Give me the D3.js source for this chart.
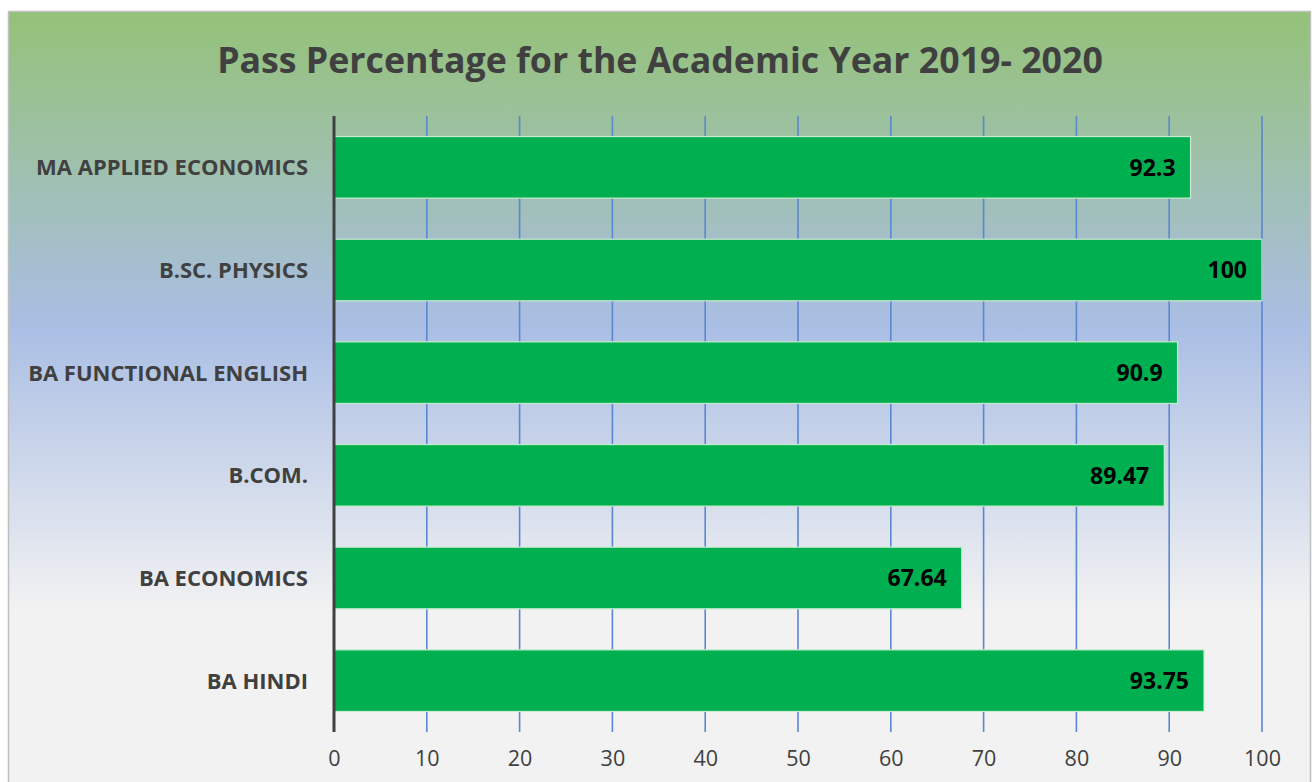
<!DOCTYPE html>
<html>
<head>
<meta charset="utf-8">
<script src="https://d3js.org/d3.v7.min.js"></script>
<style>
  html, body { margin: 0; padding: 0; background: #fff; }
  svg { display: block; font-family: 'Open Sans', sans-serif; }
</style>
<title>Pass Percentage</title>
</head>
<body>
<script>
var categories = ["MA APPLIED ECONOMICS", "B.SC. PHYSICS", "BA FUNCTIONAL ENGLISH", "B.COM.", "BA ECONOMICS", "BA HINDI"];
var passPct = [92.3, 100, 90.9, 89.47, 67.64, 93.75];
var valueLabels = ["92.3", "100", "90.9", "89.47", "67.64", "93.75"];
var xTicks = [0, 10, 20, 30, 40, 50, 60, 70, 80, 90, 100];
var title = "Pass Percentage for the Academic Year 2019- 2020";

var W = 1315, H = 782;
var svg = d3.select("body").append("svg").attr("width", W).attr("height", H);

// background gradient like the original
var grad = svg.append("defs").append("linearGradient")
    .attr("id", "bg").attr("x1", 0).attr("y1", 0).attr("x2", 0).attr("y2", 1);
grad.append("stop").attr("offset", "0%").attr("stop-color", "rgb(148,194,120)");
grad.append("stop").attr("offset", "40%").attr("stop-color", "rgb(170,190,228)");
grad.append("stop").attr("offset", "76%").attr("stop-color", "#f2f2f2");
grad.append("stop").attr("offset", "100%").attr("stop-color", "#f2f2f2");

svg.append("rect").attr("x", 8.5).attr("y", 11.5).attr("width", 1302).attr("height", 790)
    .attr("fill", "url(#bg)").attr("stroke", "#bfbfbf").attr("stroke-width", 1.5);

var margin = {top: 116, left: 334, right: W - 1262, bottom: H - 732};

var x = d3.scaleLinear().domain([0, 100]).range([margin.left, W - margin.right]);
var y = d3.scaleBand().domain(categories).range([margin.top, H - margin.bottom]).paddingInner(0.4).paddingOuter(0.2);

// gridlines
svg.append("g").selectAll("line").data(xTicks.slice(1)).enter().append("line")
    .attr("x1", function(d) { return x(d); }).attr("x2", function(d) { return x(d); })
    .attr("y1", margin.top).attr("y2", H - margin.bottom)
    .attr("stroke", "#5b86d0").attr("stroke-width", 1.6);

// bars
var data = categories.map(function(c, i) { return {cat: c, v: passPct[i], lab: valueLabels[i]}; });
svg.append("g").selectAll("rect").data(data).enter().append("rect")
    .attr("x", x(0)).attr("y", function(d) { return y(d.cat); })
    .attr("width", function(d) { return x(d.v) - x(0); })
    .attr("height", y.bandwidth())
    .attr("fill", "#00b050").attr("stroke", "#c8ecd0").attr("stroke-width", 1.2);

// value labels
svg.append("g").selectAll("text").data(data).enter().append("text")
    .attr("x", function(d) { return x(d.v) - 15; })
    .attr("y", function(d) { return y(d.cat) + y.bandwidth() / 2; })
    .attr("dy", "0.36em").attr("text-anchor", "end")
    .attr("font-size", 23).attr("font-weight", "bold").attr("fill", "#000")
    .text(function(d) { return d.lab; });

// y axis line and category labels
svg.append("line").attr("x1", x(0)).attr("x2", x(0))
    .attr("y1", margin.top).attr("y2", H - margin.bottom)
    .attr("stroke", "#404040").attr("stroke-width", 3);

svg.append("g").selectAll("text").data(categories).enter().append("text")
    .attr("x", 308).attr("y", function(d) { return y(d) + y.bandwidth() / 2; })
    .attr("dy", "0.36em").attr("text-anchor", "end")
    .attr("font-size", 22).attr("font-weight", "bold").attr("fill", "#404040")
    .text(function(d) { return d; });

// x axis tick labels
var xAxis = d3.axisBottom(x).tickValues(xTicks).tickSize(0).tickPadding(0);
var gx = svg.append("g").attr("transform", "translate(0," + 751 + ")").call(xAxis);
gx.select(".domain").remove();
gx.selectAll("text").attr("font-size", 21.5).attr("fill", "#404040")
    .attr("font-family", "'Open Sans', sans-serif");

// title
svg.append("text").attr("x", 660).attr("y", 60).attr("dy", "0.36em")
    .attr("text-anchor", "middle").attr("font-size", 35.7).attr("font-weight", "bold")
    .attr("fill", "#404040").text(title);
</script>
</body>
</html>
